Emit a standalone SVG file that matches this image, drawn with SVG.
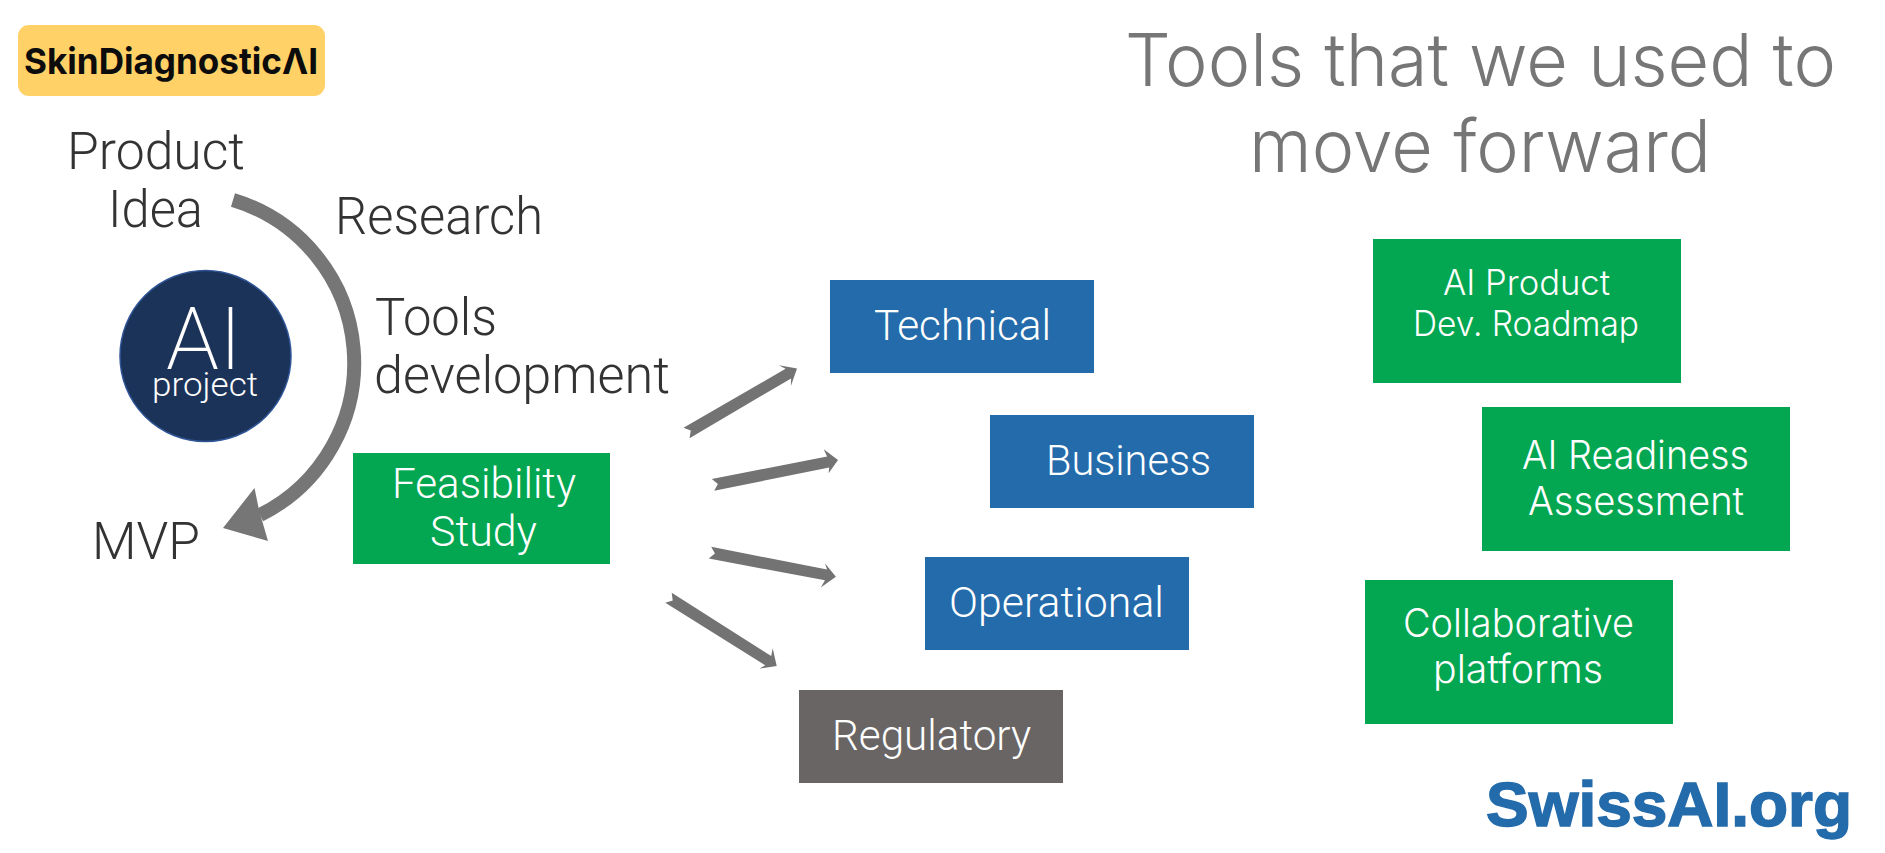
<svg xmlns="http://www.w3.org/2000/svg" width="1885" height="853" viewBox="0 0 1885 853">
<style>
text{font-family:"Roboto","Liberation Sans",sans-serif;font-weight:300}
.dark{fill:#333333;font-size:51px}
.w{fill:#ffffff;font-size:43px}
.i{font-family:"Inter","Liberation Sans",sans-serif;font-weight:300}
.blue{fill:#236baa}.green{fill:#03a651}.grey{fill:#696564}
.arrow{fill:#737373}
</style>
<rect width="1885" height="853" fill="#ffffff"/>
<g id="logo"><rect x="18" y="25" width="307" height="71" rx="11" fill="#ffd166"/>
<text x="24" y="74" font-size="36" textLength="294" lengthAdjust="spacingAndGlyphs" style="font-family:'Inter','Liberation Sans',sans-serif;font-weight:650;fill:#0c0c0c">SkinDiagnosticΛI</text></g>
<g id="title"><text class="i" x="1125" y="86" font-size="73" fill="#767676" textLength="711" lengthAdjust="spacingAndGlyphs" style="font-weight:350">Tools that we used to</text>
<text class="i" x="1249" y="172" font-size="73" fill="#767676" textLength="462" lengthAdjust="spacingAndGlyphs" style="font-weight:350">move forward</text></g>
<g id="product-idea"><text class="dark" x="67" y="169" textLength="178" lengthAdjust="spacingAndGlyphs">Product</text><text class="dark" x="108" y="227" textLength="95" lengthAdjust="spacingAndGlyphs">Idea</text></g>
<g id="research"><text class="dark" x="335" y="234" textLength="208" lengthAdjust="spacingAndGlyphs">Research</text></g>
<g id="tools-development"><text class="dark" x="375" y="335" textLength="122" lengthAdjust="spacingAndGlyphs">Tools</text><text class="dark" x="374" y="393" textLength="296" lengthAdjust="spacingAndGlyphs">development</text></g>
<g id="mvp"><text class="dark" x="92" y="559" textLength="108" lengthAdjust="spacingAndGlyphs">MVP</text></g>
<g id="ai-project"><circle cx="205.5" cy="356" r="85.5" fill="#1c3359" stroke="#2f5597" stroke-width="1.5"/>
<text x="166" y="369" font-size="87" fill="#fff" textLength="76" lengthAdjust="spacingAndGlyphs" style="font-weight:200">AI</text>
<text x="152" y="396" font-size="33" fill="#fff" textLength="106" lengthAdjust="spacingAndGlyphs">project</text></g>
<g id="connectors">
<path d="M233 200 A170 170 0 0 1 260 515" fill="none" stroke="#767676" stroke-width="14"/>
<polygon class="arrow" points="223,528 254.5,488 259,510 268,541" style="fill:#767676"/>
<polygon class="arrow" points="797,368.6 790.9,386 791.1,378.4 689.5,438.2 690.8,430.5 683.5,427.8 785.6,368.8 778.9,365.3"/>
<polygon class="arrow" points="838,460 828.6,473.2 829.2,467.4 714.2,490.8 717.9,483.9 711.8,479 827.1,456.5 823.7,449.3"/>
<polygon class="arrow" points="835.9,576.8 820.8,587.5 825,580.3 708.8,558.6 714.9,553.6 711.2,546.8 827.1,569.5 824.9,563.2"/>
<polygon class="arrow" points="776.7,666 772.7,648.2 771.2,656.1 671.7,592.7 672.7,600.4 665.3,602.7 765.3,665.3 759.6,668.6"/>
</g>
<g id="feasibility"><rect class="green" x="353" y="453" width="257" height="111"/><text class="w" x="392" y="498" textLength="184" lengthAdjust="spacingAndGlyphs">Feasibility</text><text class="w" x="430" y="546" textLength="107" lengthAdjust="spacingAndGlyphs">Study</text></g>
<g id="technical"><rect class="blue" x="830" y="280" width="264" height="93"/><text class="w" x="874" y="340" textLength="177" lengthAdjust="spacingAndGlyphs">Technical</text></g>
<g id="business"><rect class="blue" x="990" y="415" width="264" height="93"/><text class="w" x="1046" y="475" textLength="165" lengthAdjust="spacingAndGlyphs">Business</text></g>
<g id="operational"><rect class="blue" x="925" y="557" width="264" height="93"/><text class="w" x="949" y="617" textLength="215" lengthAdjust="spacingAndGlyphs">Operational</text></g>
<g id="regulatory"><rect class="grey" x="799" y="690" width="264" height="93"/><text class="w" x="832" y="750" textLength="199" lengthAdjust="spacingAndGlyphs">Regulatory</text></g>
<g id="roadmap"><rect class="green" x="1373" y="239" width="308" height="144"/><text class="i" fill="#fff" font-size="35" x="1443" y="295" textLength="167" lengthAdjust="spacingAndGlyphs">AI Product</text><text class="i" fill="#fff" font-size="35" x="1413" y="336" textLength="226" lengthAdjust="spacingAndGlyphs">Dev. Roadmap</text></g>
<g id="readiness"><rect class="green" x="1482" y="407" width="308" height="144"/><text class="i" fill="#fff" font-size="39" x="1522" y="469" textLength="227" lengthAdjust="spacingAndGlyphs">AI Readiness</text><text class="i" fill="#fff" font-size="39" x="1528" y="515" textLength="216" lengthAdjust="spacingAndGlyphs">Assessment</text></g>
<g id="collaborative"><rect class="green" x="1365" y="580" width="308" height="144"/><text class="i" fill="#fff" font-size="39" x="1403" y="636.5" textLength="231" lengthAdjust="spacingAndGlyphs">Collaborative</text><text class="i" fill="#fff" font-size="39" x="1433" y="683" textLength="170" lengthAdjust="spacingAndGlyphs">platforms</text></g>
<g id="brand"><text x="1486" y="826" font-size="63" textLength="366" lengthAdjust="spacingAndGlyphs" stroke="#236baa" stroke-width="1.5" style="font-family:'Liberation Sans',Arial,sans-serif;font-weight:700;fill:#236baa">SwissAI.org</text></g>
</svg>
